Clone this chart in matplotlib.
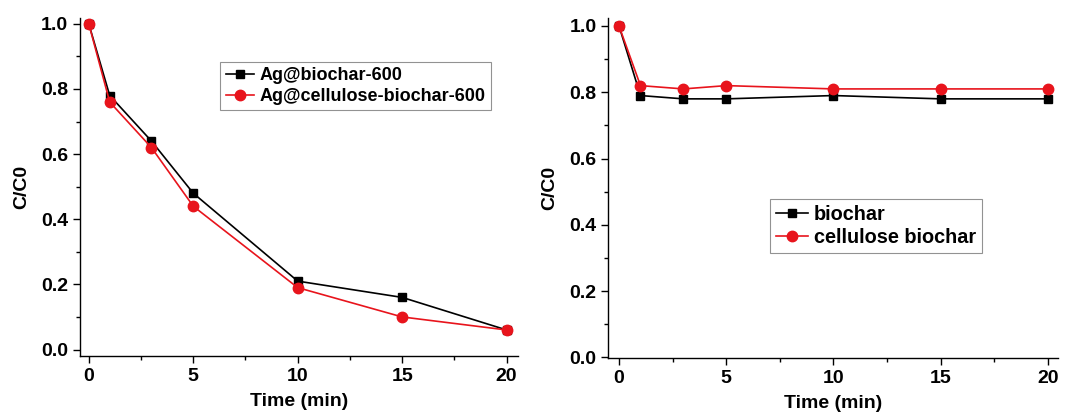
import matplotlib
matplotlib.use("Agg")
import matplotlib.pyplot as plt
from matplotlib.ticker import MultipleLocator

plt.rcParams['font.family'] = ['Liberation Sans', 'DejaVu Sans']
plt.rcParams['font.weight'] = 'bold'

time = [0, 1, 3, 5, 10, 15, 20]
ag_biochar = [1.0, 0.78, 0.64, 0.48, 0.21, 0.16, 0.06]
ag_cell_biochar = [1.0, 0.76, 0.62, 0.44, 0.19, 0.10, 0.06]
biochar = [1.0, 0.79, 0.78, 0.78, 0.79, 0.78, 0.78]
cell_biochar = [1.0, 0.82, 0.81, 0.82, 0.81, 0.81, 0.81]

fig = plt.figure(figsize=(10.7, 4.16), dpi=100)
ax1 = fig.add_axes([0.0748, 0.1442, 0.4092, 0.8125])
ax2 = fig.add_axes([0.5685, 0.1387, 0.4205, 0.8180])

def style(ax, xlim, ylim, xpad):
    ax.set_xlim(*xlim)
    ax.set_ylim(*ylim)
    for s in ['top', 'right']:
        ax.spines[s].set_visible(False)
    for s in ['left', 'bottom']:
        ax.spines[s].set_linewidth(1.0)
    ax.xaxis.set_major_locator(MultipleLocator(5))
    ax.xaxis.set_minor_locator(MultipleLocator(2.5))
    ax.yaxis.set_major_locator(MultipleLocator(0.2))
    ax.yaxis.set_minor_locator(MultipleLocator(0.1))
    ax.tick_params(which='major', direction='out', length=5, width=1.0, labelsize=14)
    ax.tick_params(which='minor', direction='out', length=3, width=1.0)
    ax.yaxis.set_major_formatter(matplotlib.ticker.FormatStrFormatter('%.1f'))
    for lab in ax.get_xticklabels() + ax.get_yticklabels():
        lab.set_fontweight('bold')
    ax.set_xlabel('Time (min)', fontsize=14, fontweight='bold', labelpad=xpad)
    ax.set_ylabel('C/C0', fontsize=14, fontweight='bold', labelpad=8)

ax1.plot(time, ag_biochar, color='black', marker='s', markersize=6, linewidth=1.2, label='Ag@biochar-600')
ax1.plot(time, ag_cell_biochar, color='#e8141c', marker='o', markersize=7.5, linewidth=1.2, label='Ag@cellulose-biochar-600')
style(ax1, (-0.42, 20.54), (-0.02, 1.018), 6)
leg1 = ax1.legend(loc='upper left', bbox_to_anchor=(0.32, 0.87), fontsize=13, frameon=True,
                  fancybox=False, edgecolor='#777777', handlelength=1.6, handletextpad=0.3,
                  borderpad=0.3, labelspacing=0.2, borderaxespad=0)
leg1.get_frame().set_linewidth(0.8)
for t in leg1.get_texts():
    t.set_fontweight('bold')

ax2.plot(time, biochar, color='black', marker='s', markersize=6, linewidth=1.2, label='biochar')
ax2.plot(time, cell_biochar, color='#e8141c', marker='o', markersize=7.5, linewidth=1.2, label='cellulose biochar')
style(ax2, (-0.5, 20.48), (-0.003, 1.024), 6)
leg2 = ax2.legend(loc='upper left', bbox_to_anchor=(0.359, 0.468), fontsize=14.3, frameon=True,
                  fancybox=False, edgecolor='#777777', handlelength=1.6, handletextpad=0.3,
                  borderpad=0.3, labelspacing=0.2, borderaxespad=0)
leg2.get_frame().set_linewidth(0.8)
for t in leg2.get_texts():
    t.set_fontweight('bold')

fig.savefig('out.png', dpi=100, facecolor='white')
